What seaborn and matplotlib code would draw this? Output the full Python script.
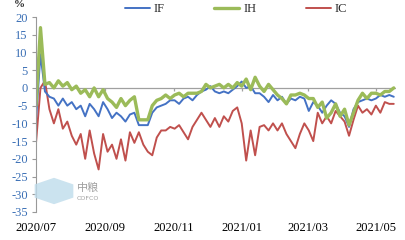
import numpy as np
import pandas as pd
import matplotlib
matplotlib.use("Agg")
import matplotlib.pyplot as plt
import matplotlib.dates as mdates
from matplotlib.patches import RegularPolygon
import seaborn as sns

# ---- data (basis, %, sampled every 4 days from 2020-07-01) ----
start_date = "2020-07-01"
step = "4D"
IF = [-9, 9.5, -1, -2.5, -3, -5, -3, -5, -4, -6,
      -5, -8, -4.5, -6, -8, -4, -6, -8.5, -7, -8,
      -9.5, -7.5, -7, -10.5, -10.5, -10.5, -7, -5.5, -5, -4.5,
      -3.5, -3.5, -4.5, -3, -2.5, -3.5, -2, -1, -0.5, 0.5,
      -1, -1.5, -1, -1.5, -0.5, 0.5, 1.8, 0, 0.5, -1.5,
      -1.5, -2.5, -4, -2, -3.5, -2.5, -4.5, -3, -3.5, -2.5,
      -3, -6.5, -4, -5, -7, -5, -3.5, -4.5, -7, -8,
      -11, -6, -4, -3.5, -3, -3.5, -3, -2, -2.5, -2, -2.5]
IH = [-5, 17, 1, 1.5, 0, 2, 0.5, 1.5, -0.5, 0.5,
      -1.5, -0.5, -2.5, 0, -2.5, -0.5, -3, -4, -5.5, -3,
      -5, -3.5, -2.5, -9, -9, -9, -5, -3.5, -3, -2,
      -3, -2, -1.5, -2.5, -1.5, -1.5, -1.5, -1, 1, 0,
      0.5, 1, 0, 1, 0, 1.5, 0.5, 2.5, -0.5, 3,
      0.5, -1, 1, -0.5, -2, -3, -4.5, -2, -2, -1.5,
      -2, -3, -3, -5.5, -4, -8.5, -7, -4.5, -8, -6,
      -10.5, -7, -3.5, -1.5, -3, -1.5, -1.5, -2, -1, -1, 0]
IC = [-15.5, 0, 2, -6, -10, -6, -11.5, -9.5, -13.5, -16,
      -13, -20, -12, -18.5, -23, -13, -18, -16, -20, -14.5,
      -20.5, -12.5, -15.5, -12.5, -16, -18, -19, -14, -12, -12,
      -11, -11.5, -10.5, -12.5, -14.5, -11, -9, -7, -9, -11,
      -8.5, -11, -8, -9.5, -6.5, -5.5, -10, -20.5, -12, -19,
      -11, -10.5, -12, -10, -12, -10, -13, -15, -17, -13,
      -10, -12, -15, -7, -10, -8, -10, -6.5, -8, -9.5,
      -13.5, -9, -5, -7, -6, -7.5, -5, -7, -4, -4.5, -4.5]
series_names = ["IF", "IH", "IC"]
y_ticks = [20, 15, 10, 5, 0, -5, -10, -15, -20, -25, -30, -35]
tick_months = [1, 3, 5, 7, 9, 11]

dates = pd.date_range(start_date, periods=len(IF), freq=step)
df = pd.DataFrame({"date": dates, "IF": IF, "IH": IH, "IC": IC})
long = df.melt(id_vars="date", var_name="series", value_name="value")

sns.set_theme(style="white")
plt.rcParams["font.family"] = ["Liberation Serif", "DejaVu Serif"]

fig = plt.figure(figsize=(4.06, 2.40), dpi=100)
ax = fig.add_axes([36 / 406, 1 - 212 / 240, 360 / 406, 195 / 240])

colors = {"IF": "#4472C4", "IH": "#9BBB59", "IC": "#C0504D"}
widths = {"IF": 1.4, "IH": 2.4, "IC": 1.4}
order_draw = ["IC", "IF", "IH"]
for name in order_draw:
    sub = long[long["series"] == name]
    sns.lineplot(data=sub, x="date", y="value", ax=ax, color=colors[name],
                 linewidth=widths[name], label=name, legend=False)

ax.set_ylim(-35, 20)
ax.set_xlim(pd.Timestamp("2020-07-01"), pd.Timestamp("2021-05-19"))
ax.set_yticks(y_ticks)
ax.set_yticklabels([str(v) for v in y_ticks], color="#3A6FB5", fontsize=9)
ax.tick_params(axis="y", length=3, width=0.8, color="#999999", pad=3, left=True)
ax.xaxis.set_major_locator(mdates.MonthLocator(bymonth=tick_months))
ax.xaxis.set_major_formatter(mdates.DateFormatter("%Y/%m"))
ax.tick_params(axis="x", length=0, pad=7, labelsize=9, labelcolor="black")
ax.set_xlabel("")
ax.set_ylabel("")
for s in ["top", "right", "bottom"]:
    ax.spines[s].set_visible(False)
ax.spines["left"].set_color("#999999")
ax.spines["left"].set_linewidth(0.8)

# zero line with small tick marks
ax.axhline(0, color="#A0A0A0", linewidth=0.9, zorder=0.5)
tick_dates = [pd.Timestamp(f"{y}-{m:02d}-01") for y, m in
              [(2020, 9), (2020, 11), (2021, 1), (2021, 3), (2021, 5)]]
ax.vlines(tick_dates, -0.9, 0, color="#A0A0A0", linewidth=0.9, zorder=0.5)

# legend
handles = {l.get_label(): l for l in ax.get_lines() if l.get_label() in series_names}
fig.legend([handles[n] for n in series_names], series_names,
           loc="center", bbox_to_anchor=(236 / 406, 1 - 9 / 240), ncol=3,
           frameon=False, fontsize=9, handlelength=2.0, columnspacing=4.0,
           handletextpad=0.3, borderaxespad=0)

# % unit label
fig.text(19 / 406, 1.0, "%", fontsize=8, va="top", ha="center",
         fontweight="bold")

# faint watermark logo
fig.patches.append(RegularPolygon((54 / 406, 1 - 191 / 240), 6, radius=0.055,
                                  transform=fig.transFigure, facecolor="#BFDCEB",
                                  edgecolor="none", alpha=0.8,
                                  orientation=0))
fig.text(88 / 406, 1 - 188 / 240, "中粮", fontsize=8, color="#A0A0A0",
         ha="center", va="center", family=["Noto Sans CJK SC", "DejaVu Sans"])
fig.text(88 / 406, 1 - 199 / 240, "COFCO", fontsize=4.5, color="#A0A0A0",
         ha="center", va="center", family=["DejaVu Sans"])

fig.savefig("out.png", dpi=100)
